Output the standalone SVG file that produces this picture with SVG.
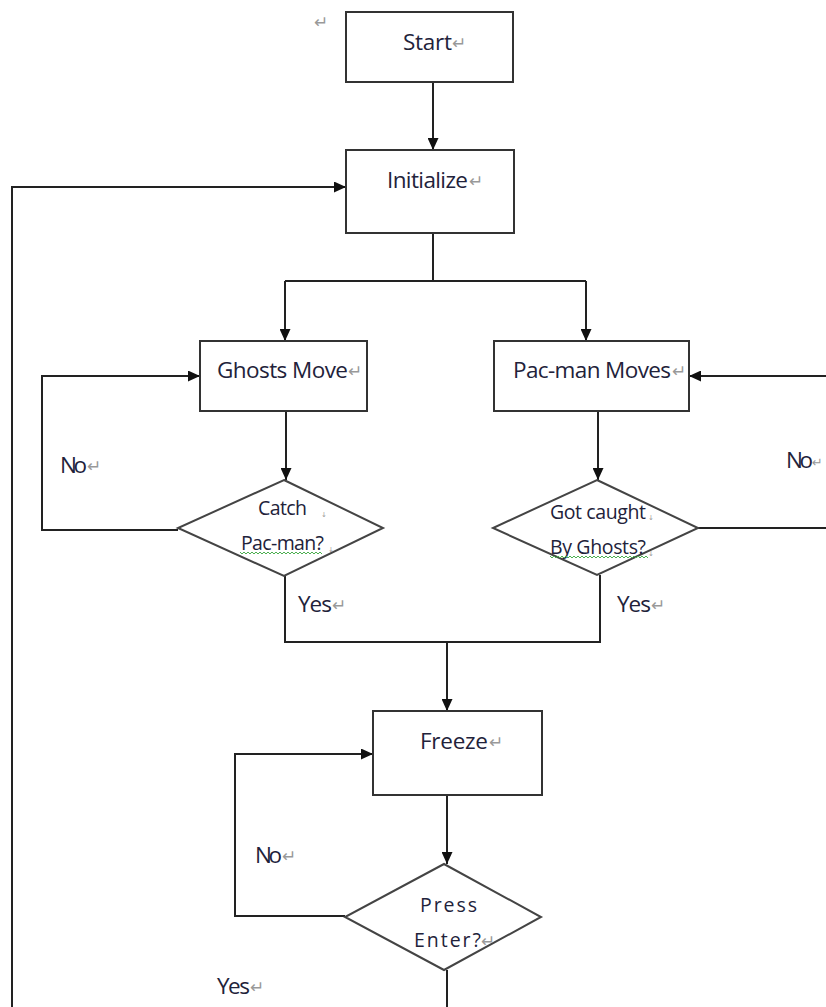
<svg xmlns="http://www.w3.org/2000/svg" width="826" height="1007" viewBox="0 0 826 1007">
<defs>
<marker id="ah" viewBox="0 0 12 11" refX="12" refY="5.5" markerWidth="12" markerHeight="11" markerUnits="userSpaceOnUse" orient="auto">
<path d="M0,0 L12,5.5 L0,11 Z" fill="#111"/>
</marker>
</defs>
<style>
.box{fill:#fff;stroke:#333;stroke-width:2}
.dia{fill:#fff;stroke:#444;stroke-width:2}
.ln{fill:none;stroke:#222;stroke-width:2}
.t{font-family:"Open Sans","Liberation Sans",sans-serif;font-size:22.5px;fill:#22223a}
.s{font-family:"Open Sans","Liberation Sans",sans-serif;font-size:19.5px;fill:#22223a}
.rm{font-family:"DejaVu Sans",sans-serif;font-size:17px;fill:#999}
.lb{font-family:"DejaVu Sans",sans-serif;font-size:7px;fill:#999}
.wv{fill:none;stroke:#4caf50;stroke-width:1}
</style>
<rect width="826" height="1007" fill="#fff"/>
<text class="rm" x="314" y="28">↵</text>

<g id="connectors">
<line class="ln" x1="433" y1="82" x2="433" y2="150" marker-end="url(#ah)"/>
<polyline class="ln" points="433,233 433,281"/>
<polyline class="ln" points="285,281 586,281"/>
<line class="ln" x1="285" y1="281" x2="285" y2="341" marker-end="url(#ah)"/>
<line class="ln" x1="586" y1="281" x2="586" y2="341" marker-end="url(#ah)"/>
<line class="ln" x1="286" y1="411" x2="286" y2="480" marker-end="url(#ah)"/>
<line class="ln" x1="598" y1="411" x2="598" y2="480" marker-end="url(#ah)"/>
<polyline class="ln" points="178,530 42,530 42,376 200,376" marker-end="url(#ah)"/>
<polyline class="ln" points="698,528 828,528"/>
<polyline class="ln" points="828,376 689,376" marker-end="url(#ah)"/>
<polyline class="ln" points="285,576 285,642 600,642 600,575"/>
<line class="ln" x1="447" y1="642" x2="447" y2="711" marker-end="url(#ah)"/>
<line class="ln" x1="447" y1="795" x2="447" y2="864" marker-end="url(#ah)"/>
<polyline class="ln" points="345,916 235,916 235,754 373,754" marker-end="url(#ah)"/>
<line class="ln" x1="447" y1="970" x2="447" y2="1009"/>
<polyline class="ln" points="12,1009 12,187 346,187" marker-end="url(#ah)"/>
</g>

<g id="start">
<rect class="box" x="346" y="12" width="167" height="70"/>
<text class="t" x="403" y="50" textLength="49">Start</text>
<text class="rm" x="452" y="49">↵</text>
</g>

<g id="initialize">
<rect class="box" x="346" y="150" width="168" height="83"/>
<text class="t" x="387" y="188" textLength="81">Initialize</text>
<text class="rm" x="469" y="187">↵</text>
</g>

<g id="ghosts-move">
<rect class="box" x="200" y="341" width="167" height="70"/>
<text class="t" x="217" y="378" textLength="131">Ghosts Move</text>
<text class="rm" x="348" y="377">↵</text>
</g>

<g id="pacman-moves">
<rect class="box" x="494" y="341" width="195" height="70"/>
<text class="t" x="513" y="378" textLength="158">Pac-man Moves</text>
<text class="rm" x="672" y="377">↵</text>
</g>

<g id="catch-pacman">
<polygon class="dia" points="284,480 383,528 284,576 178,528"/>
<text class="s" x="258" y="515" textLength="49">Catch</text>
<text class="lb" x="321" y="517">↓</text>
<text class="s" x="241" y="550" textLength="83">Pac-man?</text>
<text class="lb" x="328" y="552">↓</text>
<path class="wv" d="M240,552 l2,2 l2,-2 l2,2 l2,-2 l2,2 l2,-2 l2,2 l2,-2 l2,2 l2,-2 l2,2 l2,-2 l2,2 l2,-2 l2,2 l2,-2 l2,2 l2,-2 l2,2 l2,-2 l2,2 l2,-2 l2,2 l2,-2 l2,2 l2,-2 l2,2 l2,-2 l2,2 l2,-2 l2,2 l2,-2 l2,2 l2,-2 l2,2 l2,-2 l2,2 l2,-2 l2,2 l2,-2 l2,2"/>
</g>

<g id="got-caught">
<polygon class="dia" points="597,480 698,528 597,575 493,528"/>
<text class="s" x="550" y="519" textLength="96">Got caught</text>
<text class="lb" x="648" y="520">↓</text>
<text class="s" x="550" y="554" textLength="96">By Ghosts?</text>
<text class="lb" x="648" y="556">↓</text>
<path class="wv" d="M550,556 l2,2 l2,-2 l2,2 l2,-2 l2,2 l2,-2 l2,2 l2,-2 l2,2 l2,-2 l2,2 l2,-2 l2,2 l2,-2 l2,2 l2,-2 l2,2 l2,-2 l2,2 l2,-2 l2,2 l2,-2 l2,2 l2,-2 l2,2 l2,-2 l2,2 l2,-2 l2,2 l2,-2 l2,2 l2,-2 l2,2 l2,-2 l2,2 l2,-2 l2,2 l2,-2 l2,2 l2,-2 l2,2 l2,-2 l2,2 l2,-2 l2,2 l2,-2 l2,2 l2,-2 l2,2"/>
</g>

<g id="freeze">
<rect class="box" x="373" y="711" width="169" height="84"/>
<text class="t" x="420" y="749" textLength="68">Freeze</text>
<text class="rm" x="489" y="748">↵</text>
</g>

<g id="press-enter">
<polygon class="dia" points="444,864 541,917 444,970 345,917"/>
<text class="s" x="420" y="912" textLength="57">Press</text>
<text class="s" x="414" y="947" textLength="67">Enter?</text>
<text class="rm" x="481" y="947">↵</text>
</g>

<g id="labels">
<text class="t" x="60" y="473" textLength="27">No</text>
<text class="rm" x="87" y="472">↵</text>
<text class="t" x="786" y="468" textLength="27">No</text>
<text class="rm" x="812" y="467" style="font-size:13px">↵</text>
<text class="t" x="298" y="612" textLength="34">Yes</text>
<text class="rm" x="332" y="611">↵</text>
<text class="t" x="617" y="612" textLength="34">Yes</text>
<text class="rm" x="651" y="611">↵</text>
<text class="t" x="255" y="863" textLength="27">No</text>
<text class="rm" x="282" y="862">↵</text>
<text class="t" x="217" y="994" textLength="33">Yes</text>
<text class="rm" x="250" y="993">↵</text>
</g>
</svg>
